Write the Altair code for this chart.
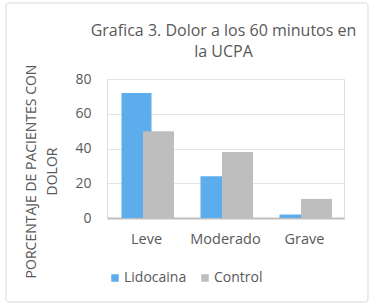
import altair as alt
import pandas as pd

categories = ["Leve", "Moderado", "Grave"]
lidocaina = [72, 24, 2]
control = [50, 38, 11]
series = ["Lidocaina", "Control"]
colors = ["#5DADEC", "#BEBEBE"]
y_ticks = [0, 20, 40, 60, 80]
title_lines = ["Grafica 3. Dolor a los 60 minutos en", "la UCPA"]

rows = []
for c, a, b in zip(categories, lidocaina, control):
    rows.append({"cat": c, "serie": "Lidocaina", "val": a})
    rows.append({"cat": c, "serie": "Control", "val": b})
df = pd.DataFrame(rows)

FONT = "Open Sans"
GREY = "#595959"

x_enc = alt.X(
    "cat:N",
    sort=categories,
    scale=alt.Scale(paddingInner=0, paddingOuter=0),
    axis=alt.Axis(
        title=None, labelAngle=0, ticks=False, labelPadding=14,
        labelFontSize=14.5, labelColor=GREY, labelFont=FONT,
        domainColor="#BFBFBF", domainWidth=2, grid=False,
    ),
)
y_enc = alt.Y(
    "val:Q",
    scale=alt.Scale(domain=[0, 80]),
    axis=alt.Axis(
        values=y_ticks, title=["PORCENTAJE DE  PACIENTES CON", "DOLOR"],
        titleFontSize=14, titleColor=GREY, titleFont=FONT, titleFontWeight="normal",
        titleX=-69, titleY=92, titleAngle=-90, titleBaseline="bottom",
        titleLineHeight=21,
        labelFontSize=14, labelColor=GREY, labelFont=FONT, labelPadding=16,
        ticks=False, domain=False, gridColor="#E4E4E4", gridWidth=1,
    ),
)
color_enc = alt.Color(
    "serie:N",
    scale=alt.Scale(domain=series, range=colors),
    legend=alt.Legend(
        title=None, orient="none", direction="horizontal",
        legendX=1, legendY=192, symbolType="square", symbolSize=56,
        symbolStrokeWidth=0, labelFontSize=14, labelColor=GREY, labelFont=FONT,
        columnPadding=11, labelOffset=2,
    ),
)

base = alt.Chart(df)
lido = base.transform_filter(alt.datum.serie == "Lidocaina").mark_bar(
    width=30, xOffset=-10
).encode(x=x_enc, y=y_enc, color=color_enc)
ctrl = base.transform_filter(alt.datum.serie == "Control").mark_bar(
    width=31, xOffset=12
).encode(x=x_enc, y=y_enc, color=color_enc)

one = pd.DataFrame({"a": [0]})
frame = alt.Chart(one).mark_rect(
    fillOpacity=0, stroke="#D9D9D9", strokeWidth=1, cornerRadius=3
).encode(
    x=alt.value(-101), x2=alt.value(261), y=alt.value(-76), y2=alt.value(223)
)
title = alt.Chart(one).mark_text(
    text=title_lines, font=FONT, fontSize=16, color=GREY, align="center",
    baseline="top", lineHeight=21,
).encode(x=alt.value(116.5), y=alt.value(-56))

chart = alt.layer(frame, lido, ctrl, title).properties(
    width=237, height=139,
    padding={"left": 107, "top": 79, "right": 27, "bottom": 89},
    autosize=alt.AutoSizeParams(type="none"),
).configure_view(stroke=None).configure(background="white")

chart.save("out.html", embed_options={"renderer": "svg", "actions": False})
